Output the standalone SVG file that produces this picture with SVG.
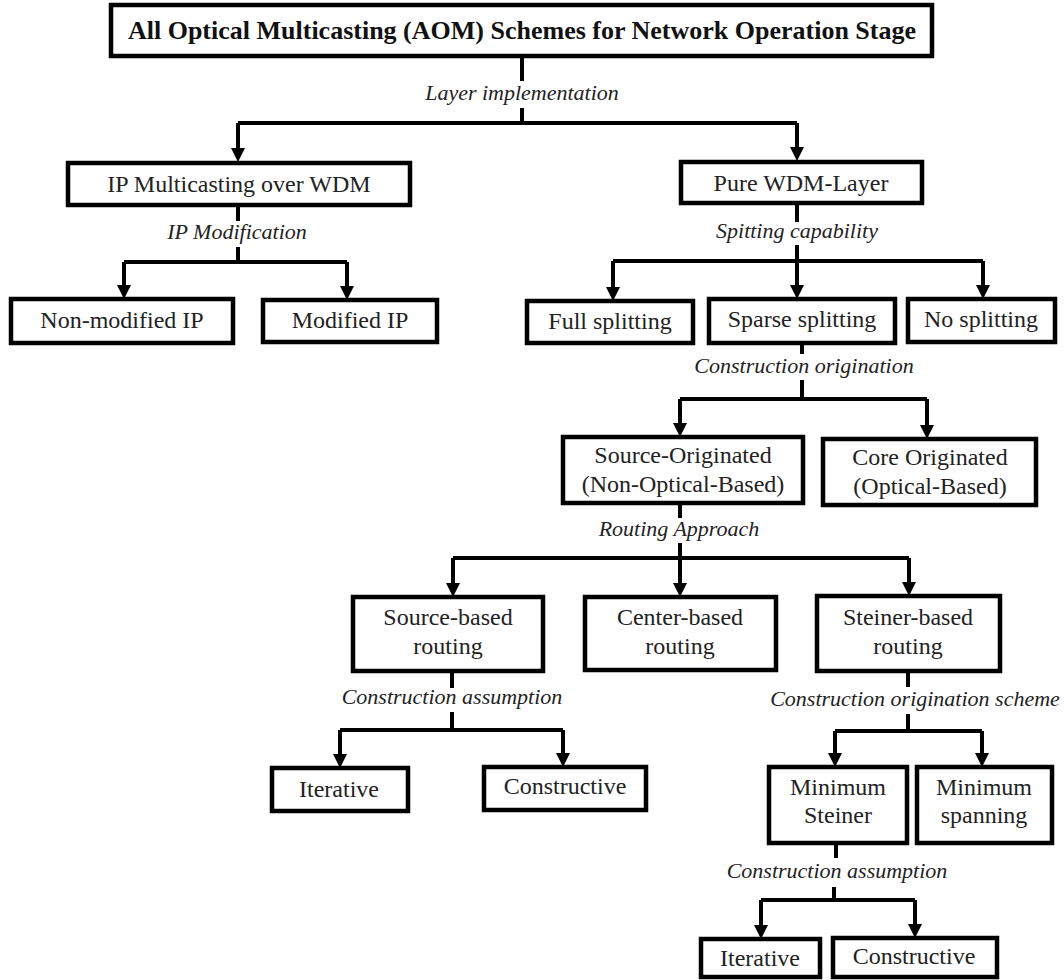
<svg xmlns="http://www.w3.org/2000/svg" width="1064" height="980" viewBox="0 0 1064 980">
<style>
.box{fill:#fff;stroke:#000;stroke-width:4.5}
.n{font-family:"Liberation Serif","Times New Roman",serif;font-size:24px;fill:#222;text-anchor:middle}
.title{font-family:"Liberation Serif","Times New Roman",serif;font-size:26px;font-weight:bold;fill:#111;text-anchor:middle}
.lbl{font-family:"Liberation Serif","Times New Roman",serif;font-size:22px;font-style:italic;fill:#222;text-anchor:middle}
.c{fill:none;stroke:#000;stroke-width:4}
.a{fill:none;stroke:#000;stroke-width:4;marker-end:url(#ah)}
</style>
<defs>
<marker id="ah" markerUnits="userSpaceOnUse" markerWidth="14" markerHeight="14" viewBox="0 0 14 14" refX="6" refY="7" orient="auto">
<path d="M0,0 L14,7 L0,14 z" fill="#000"/>
</marker>
</defs>
<rect width="1064" height="980" fill="#fff"/>
<g id="connectors">
<path class="c" d="M522,56 V81 M522,108 V123 M238,123 H797"/>
<path class="a" d="M238,123 V154"/>
<path class="a" d="M797,123 V153"/>
<path class="c" d="M238,205 V221 M238,247 V262 M124,262 H347"/>
<path class="a" d="M124,262 V291"/>
<path class="a" d="M347,262 V292"/>
<path class="c" d="M797,203 V222 M797,245 V261 M613,261 H983"/>
<path class="a" d="M613,261 V293"/>
<path class="a" d="M797,261 V291"/>
<path class="a" d="M983,261 V291"/>
<path class="c" d="M802,343 V354 M802,380 V399 M680,399 H927"/>
<path class="a" d="M680,399 V429"/>
<path class="a" d="M927,399 V431"/>
<path class="c" d="M680,503 V518 M680,543 V558 M453,558 H909"/>
<path class="a" d="M453,558 V589"/>
<path class="a" d="M680,558 V589"/>
<path class="a" d="M909,558 V588"/>
<path class="c" d="M452,671 V688 M452,712 V730 M340,730 H563"/>
<path class="a" d="M340,730 V760"/>
<path class="a" d="M563,730 V759"/>
<path class="c" d="M908,671 V687 M908,714 V731 M835,731 H982"/>
<path class="a" d="M835,731 V759"/>
<path class="a" d="M982,731 V759"/>
<path class="c" d="M836,843 V858 M834,887 V900 M761,900 H915"/>
<path class="a" d="M761,900 V931"/>
<path class="a" d="M915,900 V930"/>
</g>
<g id="labels">
<text class="lbl" x="522" y="100">Layer implementation</text>
<text class="lbl" x="237" y="239">IP Modification</text>
<text class="lbl" x="797" y="238">Spitting capability</text>
<text class="lbl" x="804" y="373">Construction origination</text>
<text class="lbl" x="679" y="536">Routing Approach</text>
<text class="lbl" x="452" y="704">Construction assumption</text>
<text class="lbl" x="915" y="706">Construction origination scheme</text>
<text class="lbl" x="837" y="878">Construction assumption</text>
</g>
<g id="root"><rect class="box" x="111" y="5" width="821" height="51"/><text class="title" x="522" y="39">All Optical Multicasting (AOM) Schemes for Network Operation Stage</text></g>
<g id="ip"><rect class="box" x="68" y="163" width="342" height="42"/><text class="n" x="239" y="192">IP Multicasting over WDM</text></g>
<g id="pure"><rect class="box" x="681" y="162" width="241" height="41"/><text class="n" x="801" y="191">Pure WDM-Layer</text></g>
<g id="nonmod"><rect class="box" x="11" y="299" width="222" height="44"/><text class="n" x="122" y="328">Non-modified IP</text></g>
<g id="mod"><rect class="box" x="263" y="300" width="174" height="42"/><text class="n" x="350" y="328">Modified IP</text></g>
<g id="full"><rect class="box" x="527" y="301" width="166" height="42"/><text class="n" x="610" y="329">Full splitting</text></g>
<g id="sparse"><rect class="box" x="709" y="299" width="186" height="44"/><text class="n" x="802" y="327">Sparse splitting</text></g>
<g id="nosplit"><rect class="box" x="908" y="299" width="147" height="43"/><text class="n" x="981" y="327">No splitting</text></g>
<g id="srcorig"><rect class="box" x="563" y="437" width="240" height="66"/><text class="n" x="683" y="463">Source-Originated</text><text class="n" x="683" y="492">(Non-Optical-Based)</text></g>
<g id="coreorig"><rect class="box" x="823" y="439" width="213" height="66"/><text class="n" x="930" y="465">Core Originated</text><text class="n" x="930" y="494">(Optical-Based)</text></g>
<g id="srcbased"><rect class="box" x="353" y="597" width="190" height="74"/><text class="n" x="448" y="625">Source-based</text><text class="n" x="448" y="654">routing</text></g>
<g id="center"><rect class="box" x="585" y="597" width="191" height="73"/><text class="n" x="680" y="625">Center-based</text><text class="n" x="680" y="654">routing</text></g>
<g id="steiner"><rect class="box" x="817" y="596" width="183" height="75"/><text class="n" x="908" y="625">Steiner-based</text><text class="n" x="908" y="654">routing</text></g>
<g id="iter1"><rect class="box" x="272" y="768" width="136" height="43"/><text class="n" x="339" y="797">Iterative</text></g>
<g id="constr1"><rect class="box" x="484" y="767" width="162" height="43"/><text class="n" x="565" y="794">Constructive</text></g>
<g id="minsteiner"><rect class="box" x="769" y="767" width="138" height="76"/><text class="n" x="838" y="795">Minimum</text><text class="n" x="838" y="823">Steiner</text></g>
<g id="minspan"><rect class="box" x="917" y="767" width="135" height="76"/><text class="n" x="984" y="795">Minimum</text><text class="n" x="984" y="823">spanning</text></g>
<g id="iter2"><rect class="box" x="701" y="939" width="119" height="38"/><text class="n" x="760" y="966">Iterative</text></g>
<g id="constr2"><rect class="box" x="833" y="938" width="164" height="39"/><text class="n" x="914" y="964">Constructive</text></g>
</svg>
